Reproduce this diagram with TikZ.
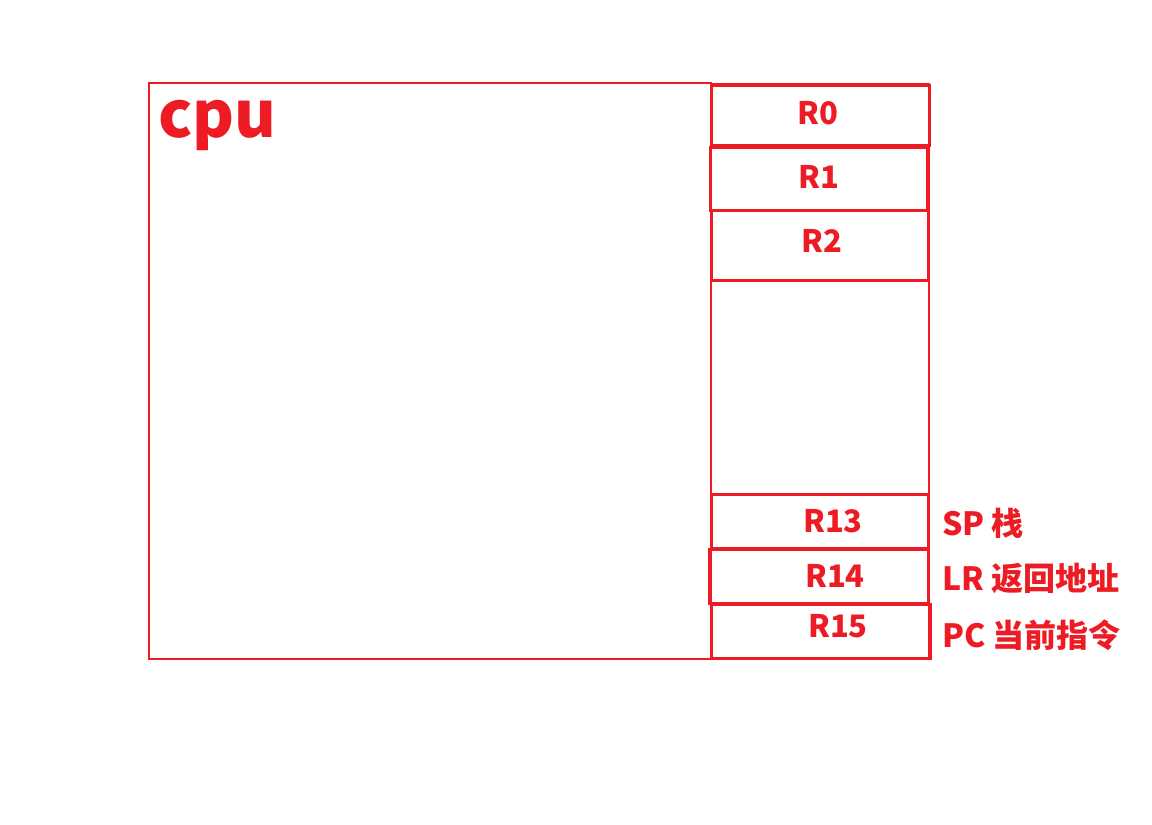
\documentclass[tikz,border=0pt]{standalone}
\usepackage{fontspec}
\setmainfont{Noto Sans CJK SC}
\usetikzlibrary{positioning}
\definecolor{cpured}{HTML}{ED1C24}

\begin{document}
\begin{tikzpicture}[
  x=1pt, y=-1pt,
  box/.style={draw=cpured, line width=2.5pt, inner sep=0pt},
  reg/.style={draw=cpured, line width=3pt, inner sep=0pt, minimum width=218pt},
  regname/.style={text=cpured, inner sep=0pt, font=\fontsize{31}{36}\selectfont\bfseries},
  note/.style={text=cpured, inner sep=0pt, anchor=base west,
    font=\fontsize{32}{38}\selectfont\bfseries},
]
\useasboundingbox (0,0) rectangle (1152,825);

% ===== CPU body =====
\node[box, minimum width=562pt, minimum height=576pt] (cpu) at (430,371) {};
\node[text=cpured, inner sep=0pt, anchor=base west,
  font=\fontsize{64}{70}\selectfont\bfseries] (cpuname) at (158,137) {cpu};

% ===== Register column =====
\node[box, minimum width=218pt, minimum height=575pt] (regs) at (820,371.5) {};

\node[reg, minimum height=60pt] (r0) at (820,115) {};
\node[reg, minimum height=63pt, minimum width=217pt] (r1) at (818.5,178.5) {};
\node[reg, minimum height=70pt, minimum width=217pt] (r2) at (819.5,245) {};
\node[reg, minimum height=54pt, minimum width=217pt] (r13) at (819.5,521) {};
\node[reg, minimum height=54pt, minimum width=219pt] (r14) at (818.5,576) {};
\node[reg, minimum height=54pt, minimum width=219pt] (r15) at (820.5,631) {};

% register names (a bit off centre, as drawn by hand)
\node[regname] (r0name)  at (818,113.5) {R0};
\node[regname] (r1name)  at (819,177) {R1};
\node[regname] (r2name)  at (822,241) {R2};
\node[regname] (r13name) at (833,521) {R13};
\node[regname] (r14name) at (835,576) {R14};
\node[regname] (r15name) at (838,626) {R15};

% ===== Special register names =====
\node[note] (sp) at (942,535) {SP 栈};
\node[note] (lr) at (942,590) {LR 返回地址};
\node[note] (pc) at (942,647) {PC 当前指令};

\end{tikzpicture}
\end{document}
